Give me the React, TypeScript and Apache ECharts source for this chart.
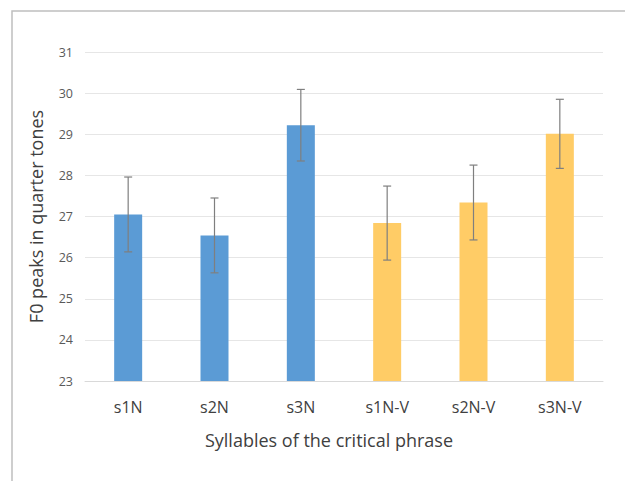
import React, { useEffect, useRef } from "react";
import * as echarts from "echarts";

const categories = ["s1N", "s2N", "s3N", "s1N-V", "s2N-V", "s3N-V"];
const means = [27.05, 26.54, 29.22, 26.84, 27.34, 29.01];
const errors = [0.91, 0.91, 0.87, 0.9, 0.91, 0.84];
const groups = ["N", "N", "N", "N-V", "N-V", "N-V"];
const yTicks = [23, 24, 25, 26, 27, 28, 29, 30, 31];

const groupColors: Record<string, string> = { N: "#5B9BD5", "N-V": "#FFCC66" };
const FONT = "'Open Sans', 'Noto Sans', sans-serif";

export default function App() {
  const ref = useRef<HTMLDivElement>(null);
  useEffect(() => {
    if (!ref.current) return;
    const chart = echarts.init(ref.current, null, { renderer: "svg" });
    const errData = categories.map((c, i) => [i, means[i] - errors[i], means[i] + errors[i]]);
    chart.setOption({
      animation: false,
      backgroundColor: "#ffffff",
      graphic: [
        {
          type: "rect",
          shape: { x: 12, y: 11, width: 700, height: 560 },
          style: { fill: "none", stroke: "#BFBFBF", lineWidth: 1.5 },
          silent: true,
        },
      ],
      grid: { left: 85, right: 22, top: 52, bottom: 100 },
      xAxis: {
        type: "category",
        data: categories,
        axisTick: { show: false },
        axisLine: { lineStyle: { color: "#D9D9D9", width: 1 } },
        axisLabel: { color: "#404040", fontSize: 16, fontFamily: FONT, margin: 18 },
        name: "Syllables of the critical phrase",
        nameLocation: "middle",
        nameGap: 50,
        nameTextStyle: { color: "#404040", fontSize: 18, fontFamily: FONT, padding: [0, 30, 0, 0] },
      },
      yAxis: {
        type: "value",
        min: yTicks[0],
        max: yTicks[yTicks.length - 1],
        interval: 1,
        axisLine: { show: false },
        axisTick: { show: false },
        splitLine: { lineStyle: { color: "#E6E6E6", width: 1 } },
        axisLabel: { color: "#595959", fontSize: 12.5, fontFamily: FONT, margin: 12 },
        name: "F0 peaks in quarter tones",
        nameLocation: "middle",
        nameGap: 40,
        nameTextStyle: { color: "#404040", fontSize: 18, fontFamily: FONT },
      },
      series: [
        {
          type: "bar",
          barWidth: 28,
          data: means.map((v, i) => ({ value: v, itemStyle: { color: groupColors[groups[i]] } })),
          z: 2,
        },
        {
          type: "custom",
          z: 5,
          data: errData,
          renderItem: (params: any, api: any) => {
            const x = api.value(0);
            const lo = api.coord([x, api.value(1)]);
            const hi = api.coord([x, api.value(2)]);
            const hw = 4;
            const style = { stroke: "#7F7F7F", lineWidth: 1.2 };
            return {
              type: "group",
              children: [
                { type: "line", shape: { x1: hi[0], y1: hi[1], x2: lo[0], y2: lo[1] }, style },
                { type: "line", shape: { x1: hi[0] - hw, y1: hi[1], x2: hi[0] + hw, y2: hi[1] }, style },
                { type: "line", shape: { x1: lo[0] - hw, y1: lo[1], x2: lo[0] + hw, y2: lo[1] }, style },
              ],
            };
          },
        },
      ],
    });
    return () => chart.dispose();
  }, []);
  return (
    <div
      ref={ref}
      style={{ position: "fixed", left: 0, top: 0, width: 625, height: 481 }}
    />
  );
}
